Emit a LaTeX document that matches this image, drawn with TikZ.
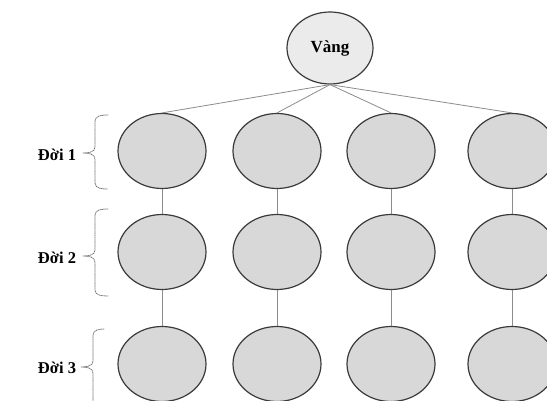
\documentclass[tikz,border=0pt]{standalone}
\usepackage{fontspec}
\setmainfont{Liberation Serif}
\usetikzlibrary{shapes.geometric}
\definecolor{cellfill}{HTML}{D8D8D8}
\definecolor{topfill}{HTML}{EBEBEB}
\definecolor{rim}{HTML}{3A3A3A}
\definecolor{wire}{HTML}{8C8C8C}
\definecolor{bracecol}{HTML}{6E6E6E}
\begin{document}
\begin{tikzpicture}[x=1pt,y=-1pt,
  cell/.style={ellipse,draw=rim,fill=cellfill,line width=1.2pt,minimum width=88pt,minimum height=75pt,inner sep=0pt},
  topcell/.style={ellipse,draw=rim,fill=topfill,line width=1.2pt,minimum width=86pt,minimum height=72pt,inner sep=0pt,font=\fontsize{17}{19}\selectfont\bfseries},
  lab/.style={font=\fontsize{16.5}{18}\selectfont\bfseries,inner sep=0pt},
  wireline/.style={draw=wire,line width=0.8pt},
  bracepath/.style={draw=bracecol,line width=0.8pt,densely dotted,line cap=round}]
\useasboundingbox (0,0) rectangle (547,401);
\clip (0,0) rectangle (547,401);
\node[topcell] (v) at (330,48) {Vàng};
\foreach \c/\x in {1/162,2/277,3/391,4/512}{
  \node[cell] (a\c) at (\x,151) {};
  \node[cell] (b\c) at (\x,252) {};
  \node[cell] (c\c) at (\x,364) {};
}
\foreach \c in {1,2,3,4}{
  \draw[wireline] (v.south) -- (a\c.north);
  \draw[wireline] (a\c.south) -- (b\c.north);
  \draw[wireline] (b\c.south) -- (c\c.north);
}
\node[lab] (l1) at (57,155) {Đời 1};
\node[lab] (l2) at (57,258) {Đời 2};
\node[lab] (l3) at (57,368) {Đời 3};
\draw[bracepath] (108,115) to[out=180,in=90] (95,121) -- (95,147) to[out=-90,in=0] (83,153) to[out=0,in=90] (95,159) -- (95,183) to[out=-90,in=180] (108,189);
\draw[bracepath] (108,209) to[out=180,in=90] (95,215) -- (95,250) to[out=-90,in=0] (83,256) to[out=0,in=90] (95,262) -- (95,290) to[out=-90,in=180] (108,296);
\draw[bracepath] (104,329) to[out=180,in=90] (93,335) -- (93,361) to[out=-90,in=0] (81,367) to[out=0,in=90] (93,373) -- (93,405);
\end{tikzpicture}
\end{document}
